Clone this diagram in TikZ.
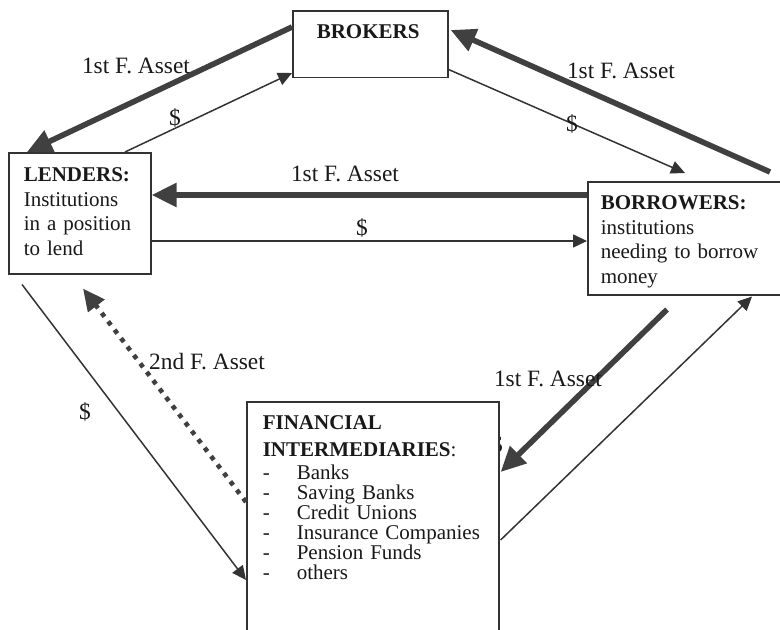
\documentclass[tikz,border=0pt]{standalone}
\usepackage{fontspec}
\setmainfont{Liberation Serif}
\usetikzlibrary{arrows.meta, calc}

\begin{document}
\begin{tikzpicture}[x=0.5pt, y=-0.5pt,
  every node/.style={font=\fontsize{10.5}{12.25}\selectfont, text=black!90},
  box/.style={draw=black!80, line width=0.8pt, fill=white, anchor=north west,
    align=left, inner ysep=7pt},
  lbl/.style={inner sep=0pt, font=\fontsize{11.7}{14}\selectfont},
  asset/.style={draw=black!75, line width=2.8pt, -{Triangle[length=12.5pt,width=11.5pt]}},
  cash/.style={draw=black!80, line width=0.75pt, -{Triangle[length=7pt,width=6.5pt]}},
  second/.style={draw=black!75, line width=2.3pt, dash pattern=on 2.3pt off 3pt,
    -{Triangle[length=11pt,width=10pt]}}]
  \useasboundingbox (0,0) rectangle (780,630);
  \clip (0,0) rectangle (780,630);

  % Boxes
  \node[box, inner xsep=12pt, text width=53.5pt, text depth=12.5pt] (brokers) at (292,10)
    {\textbf{BROKERS}};
  \node[box, inner xsep=7.5pt, inner ysep=7.5pt, text width=56pt, text depth=38.5pt] (lenders) at (8,152)
    {\textbf{LENDERS:}\\Institutions\\in a position\\to lend};
  \node[box, inner xsep=6.5pt, text width=110pt, text depth=35.5pt] (borrowers) at (587,181)
    {\textbf{BORROWERS:}\\institutions\\needing to borrow\\money};

  % $ half hidden behind the intermediaries box
  \node[lbl] (d5) at (497,445) {\$};
  \node[box, inner xsep=8pt, text width=110pt, text depth=100pt] (fin) at (246,401)
    {\textbf{FINANCIAL}\\[1.25pt]\textbf{INTERMEDIARIES}:\\[-0.75pt]
     \makebox[17pt][l]{-}Banks\\[-2.25pt]
     \makebox[17pt][l]{-}Saving Banks\\[-2.25pt]
     \makebox[17pt][l]{-}Credit Unions\\[-2.25pt]
     \makebox[17pt][l]{-}Insurance Companies\\[-2.25pt]
     \makebox[17pt][l]{-}Pension Funds\\[-2.25pt]
     \makebox[17pt][l]{-}others};

  % Flows between the boxes
  \draw[asset] ($(brokers.north west)+(0,17)$) -- ($(lenders.north west)+(19,0)$);
  \draw[cash] ($(lenders.north west)+(117,0)$) -- ($(brokers.north west)+(0,63)$);
  \draw[asset] ($(borrowers.north west)+(183,-9)$) -- ($(brokers.north east)+(2,20)$);
  \draw[cash] ($(brokers.south east)+(0,-9)$) -- ($(borrowers.north west)+(98,-8)$);
  \draw[asset] ($(borrowers.north west)+(0,14)$) -- ($(lenders.north east)+(0,43)$);
  \draw[cash] ($(lenders.north east)+(0,89)$) -- ($(borrowers.north west)+(0,60)$);
  \draw[asset] ($(borrowers.south west)+(80,14)$) -- ($(fin.north east)+(1,71)$);
  \draw[cash] ($(fin.north east)+(1,139)$) -- ($(borrowers.south west)+(165,1)$);
  \draw[cash] ($(lenders.south west)+(14,10)$) -- ($(fin.north west)+(0,179)$);
  \draw[second] ($(fin.north west)+(0,101)$) -- ($(lenders.south west)+(75,14)$);

  % Labels
  \node[lbl] (a1) at (136,66) {1st F. Asset};
  \node[lbl] (d1) at (175,118) {\$};
  \node[lbl] (a2) at (621,71) {1st F. Asset};
  \node[lbl] (d2) at (572,124) {\$};
  \node[lbl] (a3) at (345,174) {1st F. Asset};
  \node[lbl] (d3) at (362,228) {\$};
  \node[lbl] (a4) at (207,362) {2nd F. Asset};
  \node[lbl] (d4) at (85,412) {\$};
  \node[lbl] (a5) at (548,379) {1st F. Asset};
\end{tikzpicture}
\end{document}
